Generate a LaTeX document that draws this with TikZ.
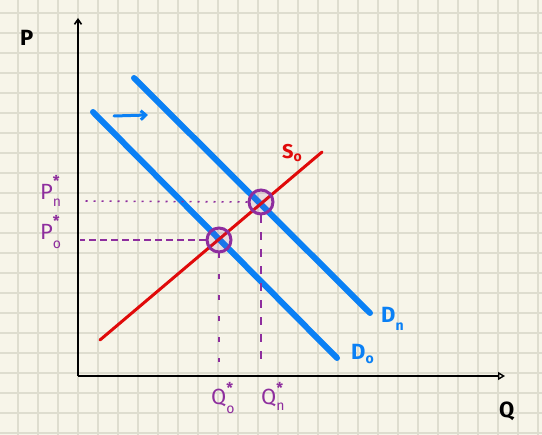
\documentclass[tikz,border=0pt]{standalone}
\usepackage{fontspec}
\setmainfont{Fira Sans}
\usetikzlibrary{arrows.meta}
\definecolor{paper}{HTML}{F7F5E9}
\definecolor{gridc}{HTML}{DEDDCF}
\definecolor{dblue}{HTML}{0A80F5}
\definecolor{sred}{HTML}{E00A0A}
\definecolor{eqpurple}{HTML}{8E2E9E}
\newcommand{\subsz}{\fontsize{14}{14}\selectfont}
\newcommand{\starsz}{\fontsize{15}{15}\selectfont\bfseries}
\begin{document}
\begin{tikzpicture}[x=1pt,y=-1pt,
  gridline/.style={draw=gridc,line width=1.6pt},
  axisline/.style={draw=black,line width=1.6pt},
  demand/.style={draw=dblue,line width=6pt,line cap=round},
  supply/.style={draw=sred,line width=3pt,line cap=round},
  eqcircle/.style={circle,draw=eqpurple,line width=3pt,fill=eqpurple,fill opacity=0.12,draw opacity=1,minimum size=24pt,inner sep=0pt},
  guide/.style={draw=eqpurple,line width=1.6pt},
  biglab/.style={font=\fontsize{22}{24}\selectfont\bfseries,inner sep=0pt,anchor=base west},
  purplab/.style={text=eqpurple,font=\fontsize{22}{24}\selectfont,inner sep=0pt,anchor=base west},
  bluelab/.style={text=dblue,font=\fontsize{22}{24}\selectfont\bfseries,inner sep=0pt,anchor=base west},
  redlab/.style={text=sred,font=\fontsize{20}{22}\selectfont\bfseries,inner sep=0pt,anchor=base west}]
\fill[paper] (0,0) rectangle (542,435);
\useasboundingbox (0,0) rectangle (542,435);
\foreach \x in {18,38,...,538} \draw[gridline] (\x,0) -- (\x,435);
\foreach \y in {13,33,...,433} \draw[gridline] (0,\y) -- (542,\y);
% axes
\coordinate (O) at (78,376);
\coordinate (ytop) at (78,18);
\coordinate (xend) at (505,376);
\draw[axisline,-{Straight Barb[length=5pt,width=7pt]}] (O) -- (ytop);
\draw[axisline,-{Triangle[open,length=7pt,width=8pt,line width=1.4pt]}] (O) -- (xend);
\node[biglab] (plab) at (20,46) {P};
\node[biglab] (qlab) at (499,418) {Q};
% demand curves
\coordinate (d0a) at (93,112);
\coordinate (d0b) at (337,358);
\coordinate (dna) at (134,78);
\coordinate (dnb) at (370,313);
\draw[demand] (d0a) -- (d0b);
\draw[demand] (dna) -- (dnb);
% shift arrow
\coordinate (sha) at (114,116);
\coordinate (shb) at (148,115);
\draw[draw=dblue,line width=3pt,line cap=round,-{Straight Barb[length=5pt,width=9pt]}] (sha) -- (shb);
% supply
\coordinate (sa) at (100,340);
\coordinate (sb) at (322,152);
\draw[supply] (sa) -- (sb);
\node[redlab] (slab) at (282,159) {S\raisebox{-0.2ex}{\subsz o}};
% demand labels
\node[bluelab] (dnlab) at (381,323) {D\raisebox{-0.6ex}{\subsz n}};
\node[bluelab] (d0lab) at (351,360) {D\raisebox{-0.3ex}{\subsz o}};
% equilibria
\node[eqcircle] (e0) at (219,240) {};
\node[eqcircle] (en) at (261,202) {};
\coordinate (p0ax) at (80,240);
\coordinate (pnax) at (80,201);
\coordinate (q0ax) at (219,362);
\coordinate (qnax) at (261,362);
\draw[guide,dash pattern=on 7pt off 4pt] (e0.west) -- (p0ax);
\draw[guide,dash pattern=on 2pt off 6pt] (en.west) -- (pnax);
\draw[guide,dash pattern=on 5pt off 16pt] (e0.south) -- (q0ax);
\draw[guide,dash pattern=on 8pt off 9pt] (en.south) -- (qnax);
% price and quantity labels
\node[purplab] (pnlab) at (40,200) {P\rlap{\raisebox{1.2ex}{\starsz *}}\raisebox{-0.6ex}{\subsz n}};
\node[purplab] (p0lab) at (40,240) {P\rlap{\raisebox{1.2ex}{\starsz *}}\raisebox{-0.7ex}{\subsz o}};
\node[purplab] (q0lab) at (211,405) {Q\rlap{\raisebox{1.0ex}{\starsz *}}\raisebox{-0.7ex}{\subsz o}};
\node[purplab] (qnlab) at (261,405) {Q\rlap{\raisebox{1.0ex}{\starsz *}}\raisebox{-0.5ex}{\subsz n}};
\end{tikzpicture}
\end{document}
